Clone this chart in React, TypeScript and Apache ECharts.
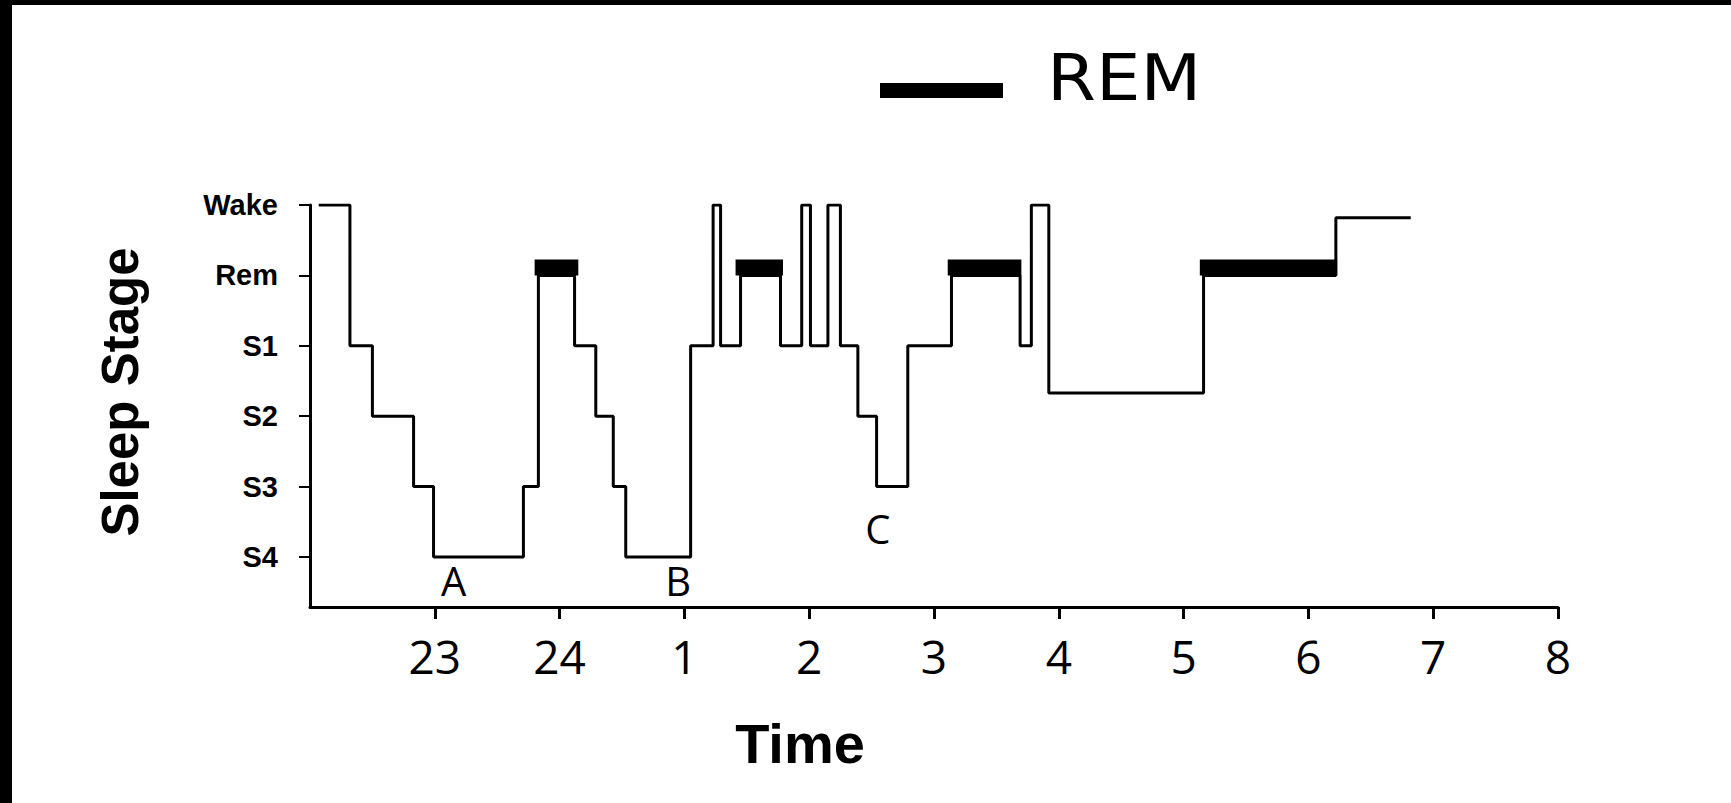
import React, { useEffect, useRef } from "react";
import * as echarts from "echarts";

// Y levels: 0 = S4 ... 5 = Wake
const stageNames = ["S4", "S3", "S2", "S1", "Rem", "Wake"];
const stageTicks = [0, 1, 2, 3, 4, 5];
// hours on a continuous clock (24 = midnight, 25 = 1 am ...)
const hourTicks = [23, 24, 25, 26, 27, 28, 29, 30, 31, 32];

// hypnogram: stage starting at each time (step holds until next time)
const stageTimes = [
  22.07, 22.32, 22.5, 22.83, 22.99, 23.71, 23.83, 24.12, 24.29, 24.43, 24.53,
  25.05, 25.23, 25.29, 25.45, 25.77, 25.94, 26.01, 26.15, 26.25, 26.39, 26.54,
  26.79, 27.14, 27.69, 27.78, 27.92, 29.16, 30.22, 30.82,
];
const stageLevels = [
  5, 3, 2, 1, 0, 1, 4, 3, 2, 1, 0,
  3, 5, 3, 4, 3, 5, 3, 5, 3, 2, 1,
  3, 4, 3, 5, 2.33, 4, 4.82, 4.82,
];

// REM periods (thick bars)
const remStart = [23.8, 25.41, 27.11, 29.13];
const remEnd = [24.15, 25.79, 27.7, 30.23];
const remLevel = 4;

// annotations
const noteLabels = ["A", "B", "C"];
const noteTimes = [23.15, 24.95, 26.55];
const noteLevels = [-0.34, -0.34, 0.41];

export default function App() {
  const ref = useRef<HTMLDivElement>(null);
  useEffect(() => {
    if (!ref.current) return;
    const chart = echarts.init(ref.current, undefined, { renderer: "svg" });
    const hypno = stageTimes.map((t, i) => [t, stageLevels[i]]);
    const rem = remStart.map((s, i) => [s, remEnd[i]]);
    const notes = noteLabels.map((l, i) => [noteTimes[i], noteLevels[i], l]);
    chart.setOption({
      animation: false,
      backgroundColor: "#fff",
      grid: { left: 310, right: 173, top: 205, bottom: 196 },
      xAxis: {
        type: "value",
        min: 22,
        max: 32,
        splitLine: { show: false },
        axisLine: { onZero: false, lineStyle: { color: "#000", width: 3 } },
        axisTick: {
          show: true,
          customValues: hourTicks,
          length: 12,
          lineStyle: { color: "#000", width: 3 },
        },
        axisLabel: {
          customValues: hourTicks,
          margin: 26,
          fontFamily: "Open Sans",
          fontSize: 46,
          color: "#000",
          formatter: (v: number) => String(v > 24 ? v - 24 : v),
        },
      },
      yAxis: {
        type: "value",
        min: -0.71,
        max: 5,
        splitLine: { show: false },
        axisLine: { show: true, onZero: false, lineStyle: { color: "#000", width: 3 } },
        axisTick: {
          show: true,
          customValues: stageTicks,
          length: 11,
          lineStyle: { color: "#000", width: 2 },
        },
        axisLabel: {
          customValues: stageTicks,
          margin: 32,
          fontFamily: "Liberation Sans",
          fontWeight: "bold",
          fontSize: 29,
          color: "#000",
          formatter: (v: number) => stageNames[Math.round(v)] ?? "",
        },
      },
      graphic: [
        { type: "rect", left: 0, top: 0, shape: { width: 12, height: 803 }, style: { fill: "#000" } },
        { type: "rect", left: 0, top: 0, shape: { width: 1731, height: 5 }, style: { fill: "#000" } },
        // legend
        { type: "rect", x: 880, y: 83, shape: { width: 123, height: 15 }, style: { fill: "#000" } },
        {
          type: "text",
          x: 1047,
          y: 78,
          scaleX: 1.1,
          style: {
            text: "REM",
            fontFamily: "DejaVu Sans",
            fontSize: 64,
            fill: "#000",
            align: "left",
            verticalAlign: "middle",
          },
        },
        {
          type: "text",
          x: 120,
          y: 392,
          rotation: Math.PI / 2,
          style: {
            text: "Sleep Stage",
            fontFamily: "Liberation Sans",
            fontWeight: "bold",
            fontSize: 51,
            fill: "#000",
            align: "center",
            verticalAlign: "middle",
          },
        },
        {
          type: "text",
          x: 800,
          y: 743,
          style: {
            text: "Time",
            fontFamily: "Liberation Sans",
            fontWeight: "bold",
            fontSize: 56,
            fill: "#000",
            align: "center",
            verticalAlign: "middle",
          },
        },
      ],
      series: [
        {
          name: "Sleep stage",
          type: "line",
          step: "end",
          data: hypno,
          symbol: "none",
          lineStyle: { color: "#000", width: 3 },
          silent: true,
        },
        {
          name: "REM",
          type: "custom",
          data: rem,
          encode: { x: [0, 1] },
          itemStyle: { color: "#000" },
          silent: true,
          renderItem: (params: any, api: any) => {
            const s = api.coord([api.value(0), remLevel]);
            const e = api.coord([api.value(1), remLevel]);
            return {
              type: "rect",
              shape: { x: s[0], y: s[1] - 16, width: e[0] - s[0], height: 16 },
              style: { fill: "#000" },
            };
          },
        },
        {
          name: "notes",
          type: "custom",
          data: notes,
          encode: { x: 0, y: 1 },
          silent: true,
          renderItem: (params: any, api: any) => {
            const p = api.coord([api.value(0), api.value(1)]);
            return {
              type: "text",
              x: p[0],
              y: p[1],
              style: {
                text: noteLabels[params.dataIndex],
                fontFamily: "Open Sans",
                fontSize: 40,
                fill: "#000",
                align: "center",
                verticalAlign: "middle",
              },
            };
          },
        },
      ],
    });
    return () => chart.dispose();
  }, []);
  return (
    <div
      ref={ref}
      style={{ position: "fixed", left: 0, top: 0, width: 1731, height: 803, background: "#fff" }}
    />
  );
}
